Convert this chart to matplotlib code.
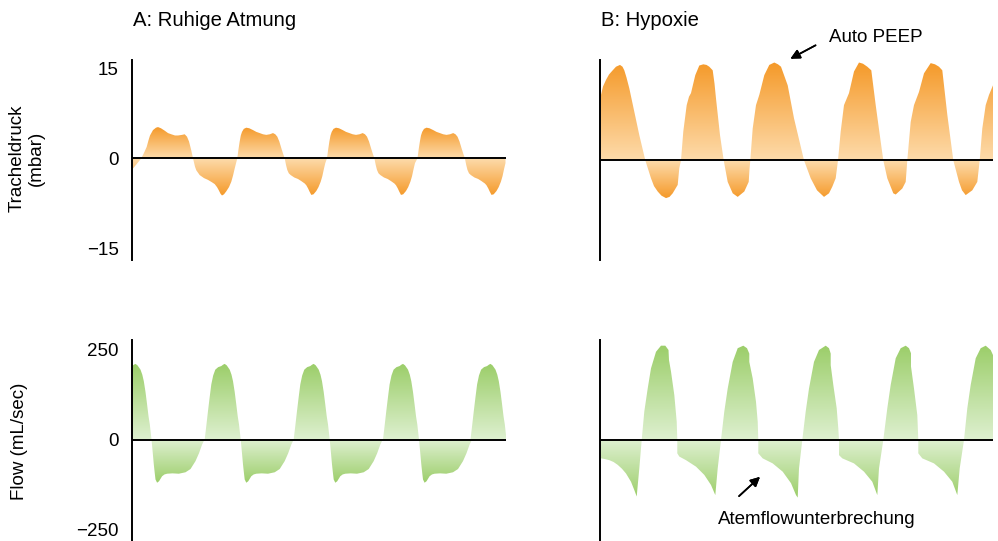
import numpy as np
import matplotlib
matplotlib.use('Agg')
import matplotlib.pyplot as plt
from matplotlib.colors import LinearSegmentedColormap
from matplotlib.patches import Polygon

plt.rcParams['font.family'] = ['Liberation Sans', 'DejaVu Sans']

# --- A: Ruhige Atmung, Tracheldruck (mbar) ---
# first (irregular) breath, time in arbitrary units
pa_first_t = [0.1, 0.5, 0.93, 1.2, 1.47, 1.65, 1.8, 2.1, 2.4, 2.6, 2.9, 3.27, 3.6, 3.93,
              4.3, 4.6, 5.0, 5.27, 5.5, 5.7, 5.9, 6.1, 6.3, 6.43, 6.77, 7.2, 7.6, 8.0,
              8.27, 8.5, 8.67, 8.85, 9.0, 9.2, 9.43, 9.7, 9.93, 10.1, 10.27]
pa_first_v = [-1.7, -0.9, 0.0, 0.9, 1.9, 3.0, 3.8, 4.7, 5.1, 5.2, 5.0, 4.6, 4.2, 4.0,
              3.8, 3.8, 3.9, 4.0, 3.6, 2.8, 1.5, 0.0, -1.4, -2.0, -2.8, -3.3, -3.6, -4.0,
              -4.3, -4.8, -5.3, -5.9, -6.2, -6.0, -5.5, -4.8, -3.9, -2.9, -1.7]
# one regular breath, measured from its zero up-crossing
pa_cycle_t = [0.0, 0.12, 0.24, 0.35, 0.47, 0.65, 0.9, 1.2, 1.57, 1.9, 2.24, 2.57, 2.9,
              3.25, 3.57, 3.8, 4.0, 4.2, 4.4, 4.57, 4.74, 4.87, 5.0, 5.15, 5.34, 5.7,
              6.07, 6.4, 6.74, 6.9, 7.07, 7.24, 7.4, 7.62, 7.9, 8.12, 8.34, 8.5, 8.67, 8.8]
pa_cycle_v = [0.0, 1.5, 2.8, 3.8, 4.4, 4.9, 5.1, 5.0, 4.7, 4.4, 4.2, 4.0, 3.9,
              4.0, 4.2, 4.0, 3.6, 2.8, 1.7, 0.8, 0.0, -1.1, -1.95, -2.5, -2.8, -3.2,
              -3.45, -3.8, -4.2, -4.5, -5.0, -5.6, -6.1, -6.0, -5.45, -4.8, -3.9, -3.0, -1.7, -0.8]
pa_starts = [10.53, 19.5, 28.55]

# --- A: Ruhige Atmung, Flow (mL/sec) ---
fa_cycle_t = [0.0, 0.17, 0.33, 0.5, 0.66, 0.85, 1.06, 1.35, 1.66, 1.85, 2.0, 2.2, 2.5,
              2.68, 2.83, 3.0, 3.16, 3.3, 3.43, 3.6, 3.72, 3.83, 3.92, 4.0, 4.16, 4.35,
              4.66, 4.9, 5.16, 5.7, 6.33, 7.0, 7.5, 8.0, 8.35, 8.66, 8.9]
fa_cycle_v = [0, 40, 79, 118, 153, 178, 194, 201, 204, 208, 210, 206, 194,
              180, 162, 132, 97, 65, 42, 0, -35, -69, -92, -111, -120, -116,
              -102, -97, -95, -94, -95, -91, -82, -60, -38, -14, 0]
fa_starts = [-1.65, 7.27, 16.17, 25.1, 33.85]

# --- B: Hypoxie, Tracheldruck (mbar) ---
pb_t = [0.1, 0.3, 0.6, 0.9, 1.27, 1.6, 2.0, 2.25, 2.43, 2.65, 2.93, 3.43, 3.93, 4.53,
        5.1, 5.4, 5.77, 6.15, 6.6, 6.95, 7.27, 7.77, 7.93, 8.1, 8.33, 8.67, 8.9, 9.1,
        9.3, 9.53, 9.93, 10.33, 10.65, 10.93, 11.27, 11.45, 11.6, 12.0, 12.37, 12.77,
        13.27, 13.77, 14.43, 14.87, 14.95, 15.03, 15.27, 15.6, 15.93, 16.43, 16.93,
        17.43, 17.8, 18.1, 18.77, 19.4, 19.9, 20.4, 21.07, 21.7, 22.4, 22.9, 23.23,
        23.57, 23.8, 24.07, 24.4, 24.9, 25.4, 25.9, 26.3, 26.73, 27.13, 27.57, 28.07,
        28.33, 28.73, 29.33, 29.57, 30.23, 30.57, 30.73, 31.07, 31.4, 31.9, 32.4,
        33.07, 33.5, 33.9, 34.23, 34.73, 35.33, 35.9, 36.2, 36.57, 37.23, 37.73,
        37.97, 38.23, 38.57, 38.9, 39.3]
pb_v = [10.9, 12.3, 13.4, 14.3, 15.0, 15.6, 15.9, 15.6, 15.0, 13.8, 12.0, 8.1, 4.2, 0.0,
        -3.0, -4.3, -5.2, -5.9, -6.3, -6.1, -5.5, -4.1, -1.3, 0.0, 4.8, 9.2, 10.6, 11.2,
        12.6, 14.2, 15.8, 16.0, 15.9, 15.6, 15.0, 12.8, 10.3, 4.2, 0.0, -3.6,
        -5.5, -6.1, -5.2, -3.6, -1.5, 0.0, 5.3, 9.2, 10.9, 14.2, 15.9,
        16.3, 16.0, 15.6, 12.5, 7.0, 3.5, 0.0, -3.0, -5.0, -6.1, -5.5, -4.4,
        -3.0, 0.0, 4.8, 9.2, 11.2, 14.8, 16.3, 16.1, 15.6, 15.0, 9.2, 3.1,
        0.0, -3.0, -5.5, -5.7, -4.7, -3.6, 0.0, 6.4, 9.2, 11.4, 14.5,
        16.2, 16.0, 15.6, 15.0, 7.6, 0.0, -3.6, -5.0, -5.8, -5.0, -3.6,
        0.0, 5.3, 9.2, 10.9, 12.5]

# --- B: Hypoxie, Flow (mL/sec) ---
fb_t = [0.1, 0.5, 0.93, 1.35, 1.77, 2.2, 2.6, 3.1, 3.43, 3.67, 3.93, 4.17, 4.43, 4.77,
        5.1, 5.6, 6.1, 6.53, 6.85, 6.9, 7.1, 7.43, 7.67, 7.73, 7.73, 7.93, 8.6, 9.6,
        10.43, 11.1, 11.53, 11.77, 12.1, 12.43, 12.77, 13.27, 13.77, 14.33, 14.7,
        14.93, 14.93, 15.27, 15.6, 15.77, 15.83, 15.83, 16.27, 17.27, 18.27, 19.1,
        19.6, 19.77, 19.9, 20.23, 20.57, 20.9, 21.4, 21.9, 22.57, 22.9, 23.07, 23.07,
        23.33, 23.67, 23.83, 23.9, 23.9, 24.23, 25.4, 26.4, 27.23, 27.73, 27.9, 28.33,
        28.73, 29.07, 29.57, 30.07, 30.57, 30.9, 31.1, 31.1, 31.4, 31.73, 31.83, 31.83,
        32.23, 33.4, 34.4, 35.23, 35.73, 35.97, 36.4, 36.73, 37.07, 37.57, 38.07,
        38.57, 39.07, 39.3]
fb_v = [-51, -53, -56, -61, -69, -80, -93, -116, -139, -157, -79, 0, 79, 143,
        199, 245, 262, 262, 250, 222, 190, 125, 51, 0, -37, -46, -56, -74,
        -97, -125, -153, -79, 0, 79, 143, 217, 255, 262, 255,
        240, 217, 171, 106, 51, 0, -37, -51, -65, -88, -120,
        -153, -160, -79, 0, 79, 143, 217, 250, 262, 255, 240, 208,
        153, 88, 32, 0, -42, -51, -65, -88, -116, -153, -79, 0,
        88, 153, 227, 255, 262, 255, 241, 204, 143, 69, 0, -37,
        -51, -65, -88, -116, -153, -79, 0, 88, 153, 227, 255,
        262, 250, 236]

ORANGE = ('#FDDBAB', '#F59A2A')
GREEN = ('#DEF0D0', '#9CCE6A')
W, H = 998, 541


def repeat_cycle(first_t, first_v, cyc_t, cyc_v, starts):
    t = list(first_t)
    v = list(first_v)
    for s in starts:
        t += [s + c for c in cyc_t]
        v += list(cyc_v)
    t = np.array(t)
    v = np.array(v)
    keep = t >= 0
    return t[keep], v[keep]


def make_axes(fig, left, right, top, bottom, ylim, xlim):
    ax = fig.add_axes([left / W, 1 - bottom / H, (right - left) / W, (bottom - top) / H])
    ax.set_xlim(*xlim)
    ax.set_ylim(*ylim)
    for s in ['top', 'right', 'bottom']:
        ax.spines[s].set_visible(False)
    ax.spines['left'].set_linewidth(1.4)
    ax.set_xticks([])
    ax.axhline(0, color='black', lw=1.4, zorder=3)
    ax.patch.set_alpha(0)
    return ax


def gradient_fill(ax, t, v, colors):
    x0, x1 = ax.get_xlim()
    y0, y1 = ax.get_ylim()
    yy = np.linspace(y0, y1, 600)
    shade = np.where(yy > 0, yy / v.max(), yy / v.min())
    shade = np.clip(shade, 0, 1)[:, None]
    cmap = LinearSegmentedColormap.from_list('grad', list(colors))
    im = ax.imshow(shade, extent=[x0, x1, y0, y1], origin='lower', aspect='auto',
                   cmap=cmap, vmin=0, vmax=1, interpolation='bilinear', zorder=1)
    verts = np.column_stack([np.r_[t, t[-1], t[0]], np.r_[v, 0, 0]])
    patch = Polygon(verts, closed=True, facecolor='none', edgecolor='none')
    ax.add_patch(patch)
    im.set_clip_path(patch)
    ax.set_xlim(x0, x1)
    ax.set_ylim(y0, y1)


fig = plt.figure(figsize=(W / 100, H / 100), dpi=100)

ax_pa = make_axes(fig, 132, 506, 60, 260, (-16.95, 16.38), (0, 37.4))
ax_pb = make_axes(fig, 600, 993, 60, 260, (-16.62, 16.72), (0, 39.3))
ax_fa = make_axes(fig, 132, 506, 340, 541, (-281.9, 276.4), (0, 37.4))
ax_fb = make_axes(fig, 600, 993, 340, 541, (-280.6, 277.8), (0, 39.3))

t, v = repeat_cycle(pa_first_t, pa_first_v, pa_cycle_t, pa_cycle_v, pa_starts)
gradient_fill(ax_pa, t, v, ORANGE)
t, v = repeat_cycle([], [], fa_cycle_t, fa_cycle_v, fa_starts)
gradient_fill(ax_fa, t, v, GREEN)
gradient_fill(ax_pb, np.array(pb_t), np.array(pb_v), ORANGE)
gradient_fill(ax_fb, np.array(fb_t), np.array(fb_v), GREEN)

ax_pa.set_yticks([-15, 0, 15])
ax_fa.set_yticks([-250, 0, 250])
for ax in (ax_pa, ax_fa):
    ax.tick_params(axis='y', length=0, pad=9.5, labelsize=13.5)
for ax in (ax_pb, ax_fb):
    ax.set_yticks([])

fig.text(27 / W, 1 - 158 / H, 'Tracheldruck\n(mbar)', rotation=90, ha='center',
         va='center', fontsize=13.5, linespacing=1.15, multialignment='center')
fig.text(20 / W, 1 - 441 / H, 'Flow (mL/sec)', rotation=90, ha='center',
         va='center', fontsize=13.5)

fig.text(133 / W, 1 - 20 / H, 'A: Ruhige Atmung', fontsize=14.6, va='center')
fig.text(601 / W, 1 - 20 / H, 'B: Hypoxie', fontsize=14.6, va='center')

arrow = dict(arrowstyle='-|>', color='black', lw=1.2, mutation_scale=14)
fig.text(829 / W, 1 - 37 / H, 'Auto PEEP', fontsize=13.5, va='center')
fig.add_artist(plt.annotate('', xy=(788 / W, 1 - 60 / H), xytext=(818 / W, 1 - 44 / H),
                            xycoords='figure fraction', arrowprops=arrow))
fig.text(718 / W, 1 - 520 / H, 'Atemflowunterbrechung', fontsize=13.5, va='center')
fig.add_artist(plt.annotate('', xy=(762 / W, 1 - 475 / H), xytext=(737 / W, 1 - 498 / H),
                            xycoords='figure fraction', arrowprops=arrow))

fig.savefig('out.png', dpi=100)
